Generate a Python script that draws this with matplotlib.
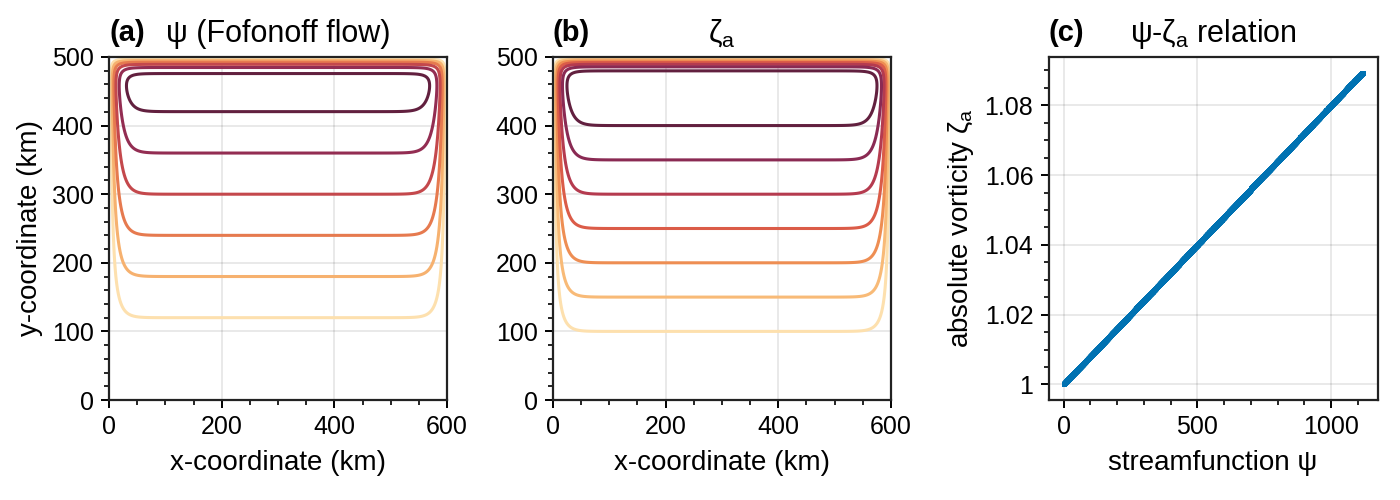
import numpy as np
import matplotlib
matplotlib.use("Agg")
import matplotlib.pyplot as plt
from matplotlib.colors import LinearSegmentedColormap
from matplotlib.ticker import MultipleLocator, FuncFormatter

# ------------------------------------------------------------------------------
# Basin and Fofonoff-mode parameters
# ------------------------------------------------------------------------------
LX = 600.0            # basin width (km)
LY = 500.0            # basin height (km)
DELTA = 11.0          # boundary-layer width (km)
PSI_PER_KM = 2.5      # interior streamfunction gradient
ZETA0 = 1.0           # absolute vorticity where psi = 0
ZETA_SLOPE = 8.0e-5   # d(zeta_a)/d(psi), linear Fofonoff relation

psi_levels = [300, 450, 600, 750, 900, 1050]
zeta_levels = [1.02, 1.03, 1.04, 1.05, 1.06, 1.07, 1.08]

fire_colors = ["#fde0ae", "#f8ba76", "#ee8e53", "#db5c48",
               "#b53b4f", "#8a2a53", "#62203f"]

# ------------------------------------------------------------------------------
# Style
# ------------------------------------------------------------------------------
plt.rcParams["font.family"] = ["Liberation Sans", "DejaVu Sans"]
plt.rcParams["font.size"] = 9
plt.rcParams["mathtext.fontset"] = "custom"
plt.rcParams["mathtext.rm"] = "Liberation Sans"
plt.rcParams["mathtext.it"] = "Liberation Sans:italic"
plt.rcParams["axes.linewidth"] = 0.8
plt.rcParams["axes.edgecolor"] = "#222222"

cmap = LinearSegmentedColormap.from_list("fire", fire_colors)

# grid and fields
x = np.linspace(0, LX, 401)
y = np.linspace(0, LY, 341)
X, Y = np.meshgrid(x, y)
wall = 1 - np.exp(-X / DELTA) - np.exp(-(LX - X) / DELTA)
psi = PSI_PER_KM * (Y - LY * np.exp(-(LY - Y) / DELTA)) * wall
psi = np.clip(psi, 0, None)
zeta = ZETA0 + ZETA_SLOPE * psi


def trim(v, pos):
    s = f"{v:.3f}".rstrip("0").rstrip(".")
    return s


def style_axis(ax):
    ax.grid(True, color="#000000", alpha=0.1, linewidth=0.6)
    ax.set_axisbelow(True)
    ax.tick_params(which="major", direction="out", length=3, width=0.7,
                   labelsize=9, pad=2.5)
    ax.tick_params(which="minor", direction="out", length=1.7, width=0.6)


def abc_title(ax, letter, title):
    ax.text(0.0, 1.03, letter, transform=ax.transAxes, fontsize=10.5,
            fontweight="bold", ha="left", va="bottom")
    ax.set_title(title, fontsize=11, pad=5.5)


fig = plt.figure(figsize=(7.0, 2.5), dpi=200)
ax_a = fig.add_axes([0.0779, 0.2, 0.2414, 0.686])
ax_b = fig.add_axes([0.395, 0.2, 0.2414, 0.686])
ax_c = fig.add_axes([0.749, 0.2, 0.235, 0.686])

# (a) streamfunction
ax_a.contour(X, Y, psi, levels=psi_levels, cmap=cmap,
             vmin=psi_levels[0], vmax=psi_levels[-1], linewidths=1.1)
# (b) absolute vorticity
ax_b.contour(X, Y, zeta, levels=zeta_levels, cmap=cmap,
             vmin=zeta_levels[0], vmax=zeta_levels[-1], linewidths=1.1)

for ax in (ax_a, ax_b):
    ax.set_xlim(0, LX)
    ax.set_ylim(0, LY)
    ax.xaxis.set_major_locator(MultipleLocator(200))
    ax.xaxis.set_minor_locator(MultipleLocator(50))
    ax.yaxis.set_major_locator(MultipleLocator(100))
    ax.yaxis.set_minor_locator(MultipleLocator(20))
    ax.set_xlabel("x-coordinate (km)", fontsize=10, labelpad=4)
    style_axis(ax)

ax_a.set_ylabel("y-coordinate (km)", fontsize=10, labelpad=3)
abc_title(ax_a, "(a)", "ψ (Fofonoff flow)")
abc_title(ax_b, "(b)", r"ζ$_\mathrm{a}$")

# (c) psi - zeta relation
ax_c.plot(psi.ravel(), zeta.ravel(), linestyle="none", marker="o",
          markersize=1.7, markeredgewidth=0, color="#0072b2")
ax_c.margins(0.05)
ax_c.xaxis.set_major_locator(MultipleLocator(500))
ax_c.xaxis.set_minor_locator(MultipleLocator(100))
ax_c.yaxis.set_major_locator(MultipleLocator(0.02))
ax_c.yaxis.set_minor_locator(MultipleLocator(0.005))
ax_c.yaxis.set_major_formatter(FuncFormatter(trim))
ax_c.set_xlabel("streamfunction ψ", fontsize=10, labelpad=4)
ax_c.set_ylabel(r"absolute vorticity ζ$_\mathrm{a}$", fontsize=10, labelpad=3)
style_axis(ax_c)
abc_title(ax_c, "(c)", r"ψ-ζ$_\mathrm{a}$ relation")

fig.savefig("out.png", dpi=200)
